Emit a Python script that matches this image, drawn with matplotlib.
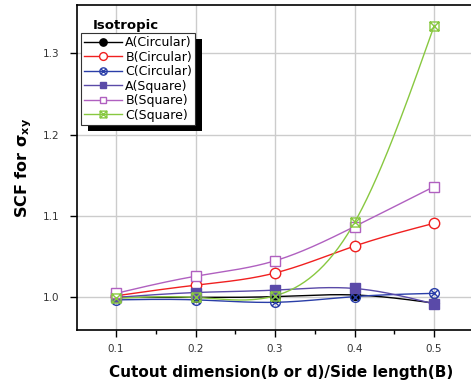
import numpy as np
import matplotlib
matplotlib.use("Agg")
import matplotlib.pyplot as plt
from matplotlib.path import Path
from matplotlib.patches import Rectangle

ratio = [0.1, 0.2, 0.3, 0.4, 0.5]
a_circ = [1.000, 1.000, 1.001, 1.003, 0.993]
b_circ = [1.002, 1.015, 1.030, 1.063, 1.091]
c_circ = [0.997, 0.997, 0.994, 1.001, 1.005]
a_sq = [1.000, 1.006, 1.009, 1.011, 0.992]
b_sq = [1.005, 1.026, 1.045, 1.087, 1.136]
c_sq = [0.999, 1.000, 1.002, 1.092, 1.333]
labels = ["A(Circular)", "B(Circular)", "C(Circular)", "A(Square)", "B(Square)", "C(Square)"]
legend_title = "Isotropic"

plt.rcParams['font.family'] = ['DejaVu Sans']
plt.rcParams['mathtext.fontset'] = 'dejavusans'


def natural_spline(x, y, n=200):
    x = np.asarray(x, float)
    y = np.asarray(y, float)
    k = len(x)
    h = np.diff(x)
    A = np.zeros((k, k))
    r = np.zeros(k)
    A[0, 0] = 1
    A[-1, -1] = 1
    for i in range(1, k - 1):
        A[i, i - 1] = h[i - 1]
        A[i, i] = 2 * (h[i - 1] + h[i])
        A[i, i + 1] = h[i]
        r[i] = 6 * ((y[i + 1] - y[i]) / h[i] - (y[i] - y[i - 1]) / h[i - 1])
    M = np.linalg.solve(A, r)
    xs = np.linspace(x[0], x[-1], n)
    ys = np.empty_like(xs)
    for j, xv in enumerate(xs):
        i = min(np.searchsorted(x, xv, side='right') - 1, k - 2)
        t1 = x[i + 1] - xv
        t0 = xv - x[i]
        ys[j] = (M[i] * t1 ** 3 / (6 * h[i]) + M[i + 1] * t0 ** 3 / (6 * h[i])
                 + (y[i] / h[i] - M[i] * h[i] / 6) * t1
                 + (y[i + 1] / h[i] - M[i + 1] * h[i] / 6) * t0)
    return xs, ys


circ = Path.unit_circle()
xlines = Path([(-0.7, -0.7), (0.7, 0.7), (-0.7, 0.7), (0.7, -0.7)],
              [Path.MOVETO, Path.LINETO, Path.MOVETO, Path.LINETO])
circle_x = Path.make_compound_path(circ, xlines)
sq = Path([(-1, -1), (1, -1), (1, 1), (-1, 1), (-1, -1)],
          [Path.MOVETO, Path.LINETO, Path.LINETO, Path.LINETO, Path.CLOSEPOLY])
xl2 = Path([(-1, -1), (1, 1), (-1, 1), (1, -1)],
           [Path.MOVETO, Path.LINETO, Path.MOVETO, Path.LINETO])
square_x = Path.make_compound_path(sq, xl2)

series = [
    (a_circ, '#000000', 'o', '#000000', 7),
    (b_circ, '#f02020', 'o', 'white', 7.5),
    (c_circ, '#2a3ea8', circle_x, 'none', 7),
    (a_sq, '#5a4aa8', 's', '#5a4aa8', 6.5),
    (b_sq, '#b060c0', 's', 'white', 6.5),
    (c_sq, '#88c840', square_x, 'none', 6.5),
]

fig = plt.figure(figsize=(4.71, 3.85), dpi=100)
ax = fig.add_axes([77 / 471, 1 - 330 / 385, 1 - 77 / 471, (330 - 5) / 385])

handles = []
for (vals, col, mk, fc, ms), lab in zip(series, labels):
    xs, ys = natural_spline(ratio, vals)
    ax.plot(xs, ys, color=col, lw=1.0, zorder=3)
    ax.plot(ratio, vals, ls='none', marker=mk, ms=ms, mfc=fc, mec=col, mew=1.0, zorder=4)
    h, = ax.plot([], [], color=col, lw=1.0, marker=mk, ms=ms * 0.75, mfc=fc, mec=col,
                 mew=1.0, label=lab)
    handles.append(h)

ax.set_xlim(0.0509, 0.5465)
ax.set_ylim(0.960, 1.359)
ax.set_xticks(ratio)
ax.set_xticks([0.15, 0.25, 0.35, 0.45], minor=True)
ax.set_yticks([1.0, 1.1, 1.2, 1.3])
ax.set_xticklabels([f"{v:.1f}" for v in ratio])
ax.set_yticklabels(["1.0", "1.1", "1.2", "1.3"])
ax.grid(True, which='major', color='#cccccc', lw=1.0, zorder=0)
ax.set_axisbelow(True)
ax.spines['right'].set_visible(False)
for s in ['left', 'bottom', 'top']:
    ax.spines[s].set_linewidth(1.2)
ax.tick_params(axis='both', which='major', direction='out', length=5, width=1.0,
               labelsize=7.5, labelcolor='#333333')
ax.tick_params(axis='x', which='major', pad=5)
ax.tick_params(axis='y', which='major', pad=8)
ax.tick_params(axis='x', which='minor', direction='out', length=3, width=1.0)
ax.tick_params(top=False, right=False)

ax.set_xlabel("Cutout dimension(b or d)/Side length(B)", fontsize=11, fontweight='bold')
ax.xaxis.set_label_coords((281 - 77) / 394, -0.107)
ax.set_ylabel(r"SCF for $\mathbf{\sigma_{xy}}$", fontsize=11.5, fontweight='bold', labelpad=6)

leg = ax.legend(handles=handles, loc='upper left', bbox_to_anchor=(4 / 394, 1 - 28 / 325),
                fontsize=9, frameon=True, fancybox=False, shadow=False, framealpha=1,
                handlelength=3.0, handletextpad=0.3, labelspacing=0.12, borderpad=0.25,
                borderaxespad=0.0)
leg.get_frame().set_edgecolor('#333333')
leg.get_frame().set_linewidth(0.8)
leg.set_zorder(6)
ax.text(16 / 394, 1 - 20 / 325, legend_title, transform=ax.transAxes, fontsize=9.5,
        fontweight='bold', ha='left', va='center')

fig.canvas.draw()
bb = leg.get_frame().get_window_extent(fig.canvas.get_renderer())
shadow = Rectangle((bb.x0 + 7, bb.y0 - 6), bb.width, bb.height, transform=None,
                   facecolor='black', edgecolor='none', zorder=5.5)
ax.add_artist(shadow)

fig.savefig("out.png", dpi=100)
